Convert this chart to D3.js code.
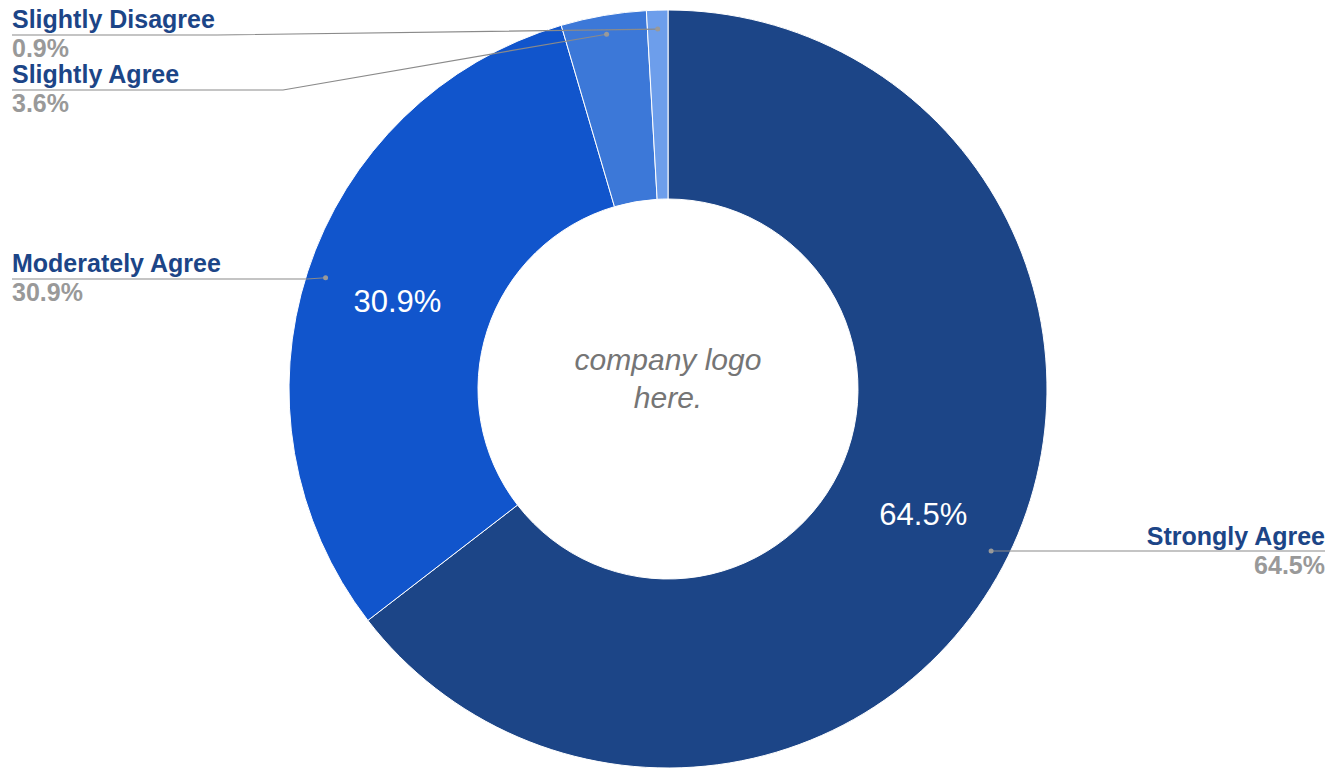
<!DOCTYPE html>
<html>
<head>
<meta charset="utf-8">
<script src="https://cdn.jsdelivr.net/npm/d3@7/dist/d3.min.js"></script>
<style>
  body { margin: 0; background: #fff; }
  svg { display: block; font-family: "Liberation Sans", Arial, sans-serif; }
</style>
</head>
<body>
<div id="viz"></div>
<script>
// answer categories and counts (out of 110 responses)
var categories = ["Strongly Agree", "Moderately Agree", "Slightly Agree", "Slightly Disagree"];
var counts = [71, 34, 4, 1];
var percentLabels = ["64.5%", "30.9%", "3.6%", "0.9%"];
var colors = ["#1c4587", "#1155cc", "#3c78d8", "#6d9eeb"];

var WIDTH = 1329;
var HEIGHT = 773;
var CX = 668;
var CY = 389;
var OUTER_R = 379;
var INNER_R = 190;

// where each side label sits: side, baseline of name, y of leader, x where the horizontal leader ends
var labelLayout = [
  { side: "right", y: 545, lineY: 551, lineEnd: 1325 },
  { side: "left", y: 272, lineY: 279, lineEnd: 307 },
  { side: "left", y: 83, lineY: 90, lineEnd: 283 },
  { side: "left", y: 28, lineY: 35, lineEnd: 217 }
];

var svg = d3.select("#viz")
  .append("svg")
  .attr("width", WIDTH)
  .attr("height", HEIGHT);

var data = categories.map(function(c, i) {
  return { name: c, value: counts[i], pct: percentLabels[i], color: colors[i], layout: labelLayout[i] };
});

var pie = d3.pie()
  .value(function(d) { return d.value; })
  .sort(null);

var arc = d3.arc()
  .innerRadius(INNER_R)
  .outerRadius(OUTER_R);

var dotArc = d3.arc()
  .innerRadius(OUTER_R * 0.95)
  .outerRadius(OUTER_R * 0.95);

var arcs = pie(data);

var g = svg.append("g")
  .attr("transform", "translate(" + CX + "," + CY + ")");

g.selectAll("path.slice")
  .data(arcs)
  .enter()
  .append("path")
  .attr("class", "slice")
  .attr("d", arc)
  .style("fill", function(d) { return d.data.color; })
  .style("stroke", "#fff")
  .style("stroke-width", 1);

// percentages inside big slices
g.selectAll("text.inner")
  .data(arcs.filter(function(d) { return d.endAngle - d.startAngle > 0.5; }))
  .enter()
  .append("text")
  .attr("class", "inner")
  .attr("x", function(d) { return arc.centroid(d)[0]; })
  .attr("y", function(d) { return arc.centroid(d)[1]; })
  .attr("text-anchor", "middle")
  .attr("dominant-baseline", "central")
  .style("fill", "#fff")
  .style("font-size", "31px")
  .text(function(d) { return d.data.pct; });

// center placeholder
var center = svg.append("text")
  .attr("x", CX)
  .attr("text-anchor", "middle")
  .style("font-size", "30px")
  .style("font-style", "italic")
  .style("fill", "#757575");
center.append("tspan").attr("x", CX).attr("y", 370).text("company logo");
center.append("tspan").attr("x", CX).attr("y", 408).text("here.");

// leader lines + side labels
var labels = svg.selectAll("g.label")
  .data(arcs)
  .enter()
  .append("g")
  .attr("class", "label");

function dotPos(d) {
  var p = dotArc.centroid(d);
  var lay = d.data.layout;
  // right label's leader runs flat into the dot
  if (lay.side == "right") return [p[0] + CX, lay.lineY];
  return [p[0] + CX, p[1] + CY];
}

labels.append("polyline")
  .attr("points", function(d) {
    var lay = d.data.layout;
    var start = lay.side == "left" ? 12 : 1325;
    return [[start, lay.lineY], [lay.lineEnd, lay.lineY], dotPos(d)].join(" ");
  })
  .style("fill", "none")
  .style("stroke", "#8a8a8a")
  .style("stroke-width", 1.2);

labels.append("circle")
  .attr("cx", function(d) { return dotPos(d)[0]; })
  .attr("cy", function(d) { return dotPos(d)[1]; })
  .attr("r", 2.5)
  .style("fill", "#999");

labels.append("text")
  .attr("x", function(d) { return d.data.layout.side == "left" ? 12 : 1325; })
  .attr("y", function(d) { return d.data.layout.y; })
  .attr("text-anchor", function(d) { return d.data.layout.side == "left" ? "start" : "end"; })
  .style("font-size", "25px")
  .style("font-weight", "bold")
  .style("fill", "#1c4587")
  .text(function(d) { return d.data.name; });

labels.append("text")
  .attr("x", function(d) { return d.data.layout.side == "left" ? 12 : 1325; })
  .attr("y", function(d) { return d.data.layout.y + 29; })
  .attr("text-anchor", function(d) { return d.data.layout.side == "left" ? "start" : "end"; })
  .style("font-size", "25px")
  .style("font-weight", "bold")
  .style("fill", "#999")
  .text(function(d) { return d.data.pct; });
</script>
</body>
</html>
